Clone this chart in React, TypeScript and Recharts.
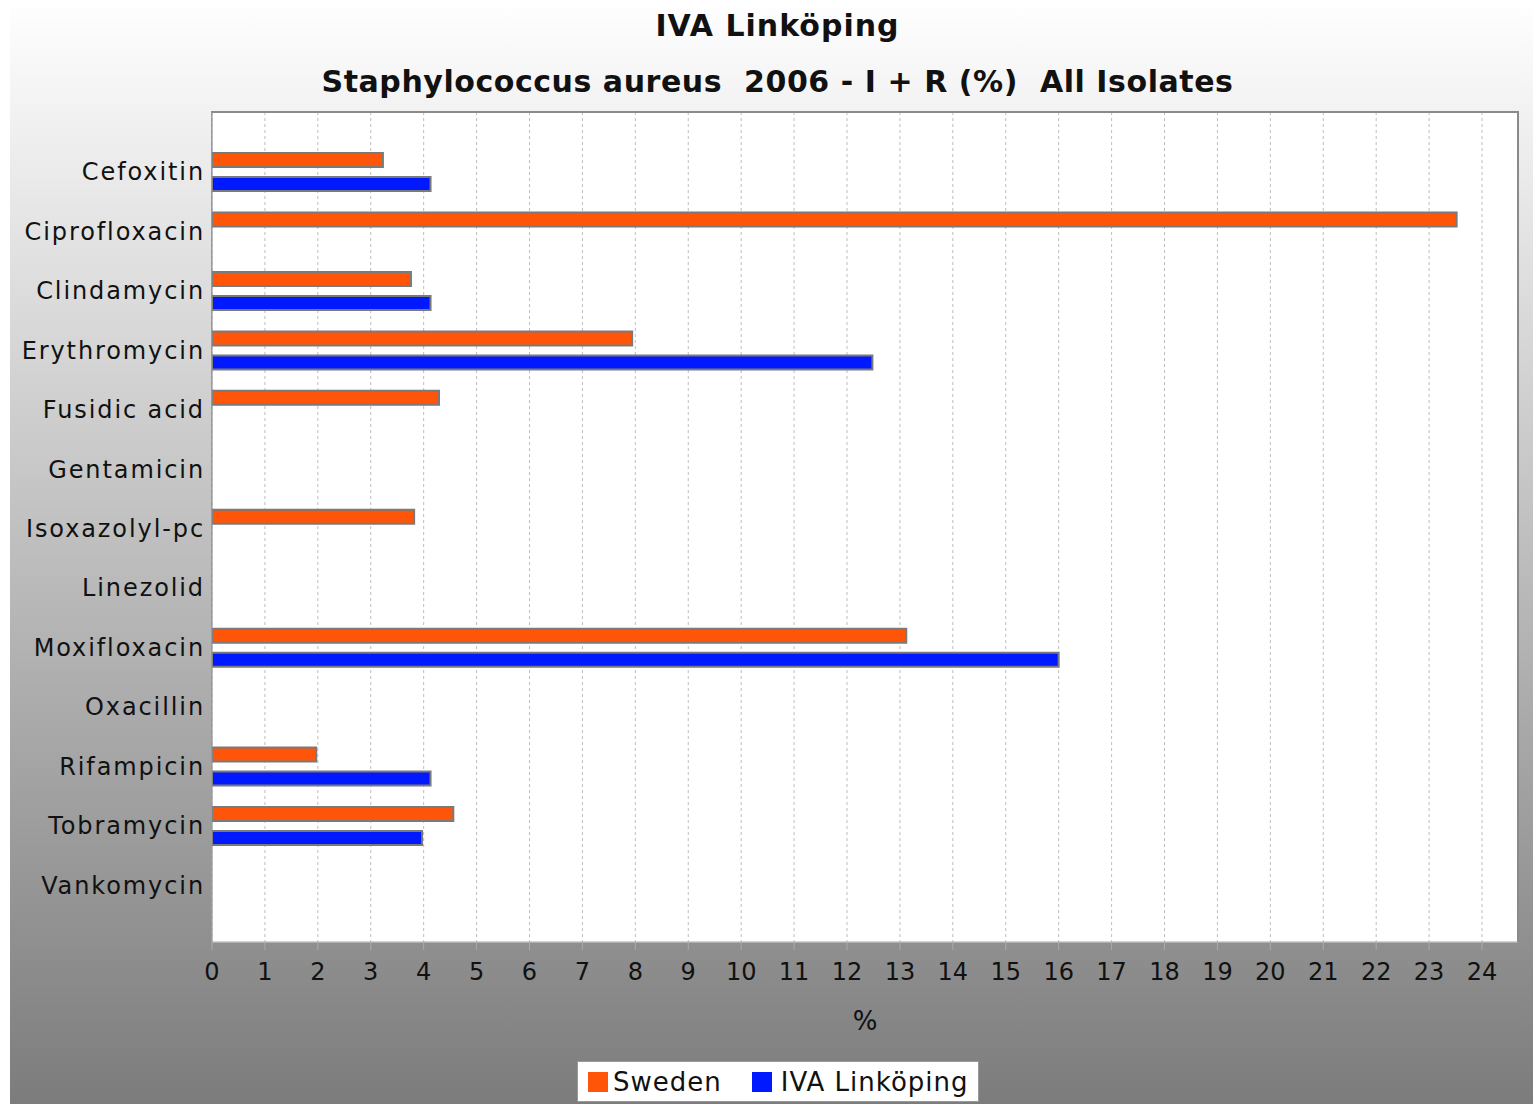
import React from 'react';
import { BarChart, Bar, XAxis, YAxis, CartesianGrid } from 'recharts';

const categories = [
  'Cefoxitin', 'Ciprofloxacin', 'Clindamycin', 'Erythromycin', 'Fusidic acid',
  'Gentamicin', 'Isoxazolyl-pc', 'Linezolid', 'Moxifloxacin', 'Oxacillin',
  'Rifampicin', 'Tobramycin', 'Vankomycin',
];
const swedenValues = [3.23, 23.52, 3.76, 7.94, 4.29, 0, 3.82, 0, 13.12, 0, 1.97, 4.56, 0];
const ivaValues = [4.13, 0, 4.13, 12.48, 0, 0, 0, 0, 16.0, 0, 4.13, 3.97, 0];
const xTicks = [0, 1, 2, 3, 4, 5, 6, 7, 8, 9, 10, 11, 12, 13, 14, 15, 16, 17, 18, 19, 20, 21, 22, 23, 24];

const SWEDEN = '#ff5509';
const IVA = '#0019ff';
const FONT = '"DejaVu Sans", sans-serif';

const data = categories.map((name, i) => ({
  name,
  sweden: swedenValues[i],
  iva: ivaValues[i],
}));

export default function App() {
  return (
    <div style={{ position: 'absolute', left: 0, top: 0, width: 1533, height: 1104, background: '#fff', fontFamily: FONT }}>
      <div
        style={{
          position: 'absolute', left: 10, top: 0, width: 1523, height: 1104,
          background: 'linear-gradient(to bottom, #ffffff, #7c7c7c)',
        }}
      />
      <div style={{ position: 'absolute', left: 22, width: 1511, top: 8, textAlign: 'center', fontWeight: 'bold', fontSize: 30, color: '#111', letterSpacing: 1 }}>
        IVA Linköping
      </div>
      <div style={{ position: 'absolute', left: 22, width: 1511, top: 64, textAlign: 'center', fontWeight: 'bold', fontSize: 30, color: '#111', whiteSpace: 'pre', letterSpacing: 0.55 }}>
        {'Staphylococcus aureus  2006 - I + R (%)  All Isolates'}
      </div>

      <div style={{ position: 'absolute', left: 0, top: 0 }}>
        <BarChart
          width={1533}
          height={1104}
          data={data}
          layout="vertical"
          margin={{ top: 112, right: 15, bottom: 62, left: 0 }}
          barSize={14}
          barGap={10}
        >
          <CartesianGrid fill="#ffffff" horizontal={false} stroke="#bdbdbd" strokeDasharray="3 3" />
          <XAxis
            type="number"
            domain={[0, 24.68]}
            ticks={xTicks}
            interval={0}
            allowDataOverflow
            height={100}
            tickSize={8}
            tickMargin={13}
            stroke="#aaaaaa"
            tick={{ fill: '#111', fontSize: 24, fontFamily: FONT }}
            label={{ value: '%', position: 'insideBottom', offset: 12, fill: '#111', fontSize: 26, fontFamily: FONT }}
          />
          <YAxis
            type="category"
            dataKey="name"
            width={212}
            tickSize={0}
            tickMargin={7}
            interval={0}
            stroke="#888888"
            padding={{ top: 30, bottom: 27 }}
            tick={{ fill: '#111', fontSize: 24, fontFamily: FONT, letterSpacing: 1.9 }}
          />
          <Bar dataKey="sweden" name="Sweden" fill={SWEDEN} stroke="#7a7a7a" strokeWidth={2} isAnimationActive={false} />
          <Bar dataKey="iva" name="IVA Linköping" fill={IVA} stroke="#7a7a7a" strokeWidth={2} isAnimationActive={false} />
        </BarChart>
      </div>

      {/* plot outline */}
      <div
        style={{
          position: 'absolute', left: 211, top: 111, width: 1308, height: 832, boxSizing: 'border-box',
          borderTop: '2px solid #8a8a8a', borderRight: '2px solid #8a8a8a', borderLeft: '1px solid #9a9a9a',
          borderBottom: '1px solid #b0b0b0', pointerEvents: 'none',
        }}
      />

      <div
        style={{
          position: 'absolute', left: 577, top: 1061, width: 402, height: 41, boxSizing: 'border-box',
          background: '#fff', border: '1px solid #999', display: 'flex', alignItems: 'center',
          fontSize: 26, color: '#111', paddingLeft: 10, letterSpacing: 1,
        }}
      >
        <span style={{ width: 20, height: 20, background: SWEDEN, display: 'inline-block', marginRight: 5 }} />
        <span>Sweden</span>
        <span style={{ width: 20, height: 20, background: IVA, display: 'inline-block', marginLeft: 30, marginRight: 9 }} />
        <span>IVA Linköping</span>
      </div>
    </div>
  );
}
